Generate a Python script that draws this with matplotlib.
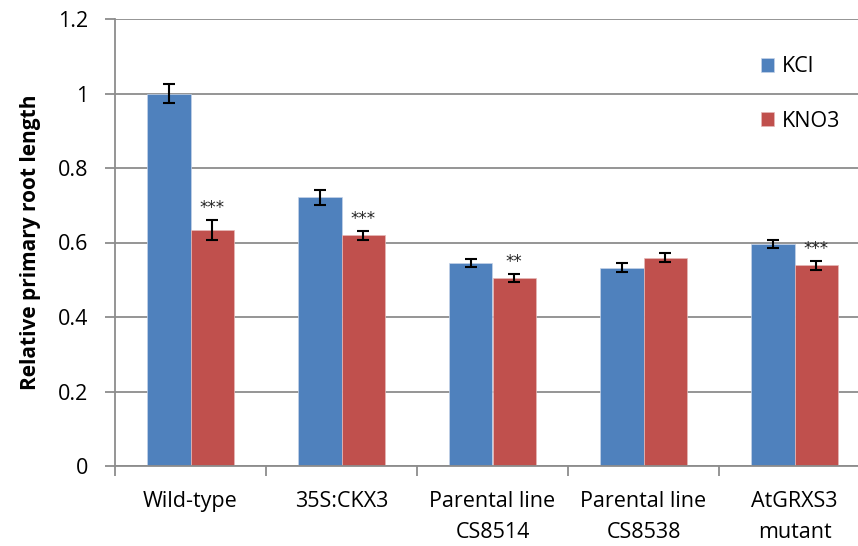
import matplotlib
matplotlib.use('Agg')
import matplotlib.pyplot as plt
import numpy as np

plt.rcParams['font.family'] = ['Open Sans', 'DejaVu Sans']

# relative primary root length per line, KCl vs KNO3 treatment
lines = ['Wild-type', '35S:CKX3', 'Parental line\nCS8514', 'Parental line\nCS8538', 'AtGRXS3\nmutant']
kcl = [1.0, 0.722, 0.544, 0.532, 0.597]
kcl_err = [0.026, 0.020, 0.011, 0.012, 0.011]
kno3 = [0.634, 0.619, 0.504, 0.559, 0.539]
kno3_err = [0.027, 0.013, 0.011, 0.012, 0.012]
kno3_sig = ['***', '***', '**', '', '***']

blue = '#4f81bd'
red = '#c0504d'
grey = '#8c8c8c'

fig = plt.figure(figsize=(8.58, 5.46), dpi=100)
ax = fig.add_axes([115 / 858, 80 / 546, 755 / 858, 447 / 546])

x = np.arange(len(lines))
w = 0.285
ekw = dict(ecolor='black', elinewidth=1.5, capsize=4.5, capthick=1.5)
ax.bar(x - w / 2, kcl, w, color=blue, edgecolor='#c5d3e8', linewidth=0.5,
       yerr=kcl_err, error_kw=ekw, label='KCl', zorder=2)
ax.bar(x + w / 2, kno3, w, color=red, edgecolor='#e6b9b8', linewidth=0.5,
       yerr=kno3_err, error_kw=ekw, label='KNO3', zorder=2)

for i, s in enumerate(kno3_sig):
    if s:
        ax.annotate(s, (x[i] + w / 2, kno3[i] + kno3_err[i]), xytext=(0, 2),
                    textcoords='offset points', ha='center', va='bottom',
                    fontsize=12, color='#222222', family='DejaVu Sans')

ax.set_xlim(-0.5, len(lines) - 0.5)
ax.set_ylim(0, 1.2)
ax.set_yticks(np.arange(0, 1.21, 0.2))
ax.set_yticklabels(['0', '0.2', '0.4', '0.6', '0.8', '1', '1.2'])
ax.yaxis.grid(True, color=grey, linewidth=1.3, zorder=0)
ax.set_axisbelow(True)

ax.set_xticks(np.arange(-0.5, len(lines), 1.0))
ax.set_xticklabels([])
ax.set_xticks(x, minor=True)
ax.set_xticklabels(lines, minor=True, fontsize=15.5, linespacing=1.6)
ax.tick_params(axis='x', which='minor', length=0, pad=18)
ax.tick_params(axis='x', which='major', length=7, color=grey, width=1.3, direction='out')
ax.tick_params(axis='y', length=7, color=grey, width=1.3, labelsize=15.5, pad=12)

for side in ['top', 'right']:
    ax.spines[side].set_visible(False)
for side in ['left', 'bottom']:
    ax.spines[side].set_color(grey)
    ax.spines[side].set_linewidth(1.3)

ax.set_ylabel('Relative primary root length', fontsize=15, fontweight='bold', labelpad=12)

ax.legend(loc='upper left', bbox_to_anchor=(0.83, 0.96), frameon=False,
          fontsize=15.5, handlelength=0.6, handleheight=0.6, labelspacing=1.55,
          handletextpad=0.35)

fig.savefig('out.png', dpi=100)
